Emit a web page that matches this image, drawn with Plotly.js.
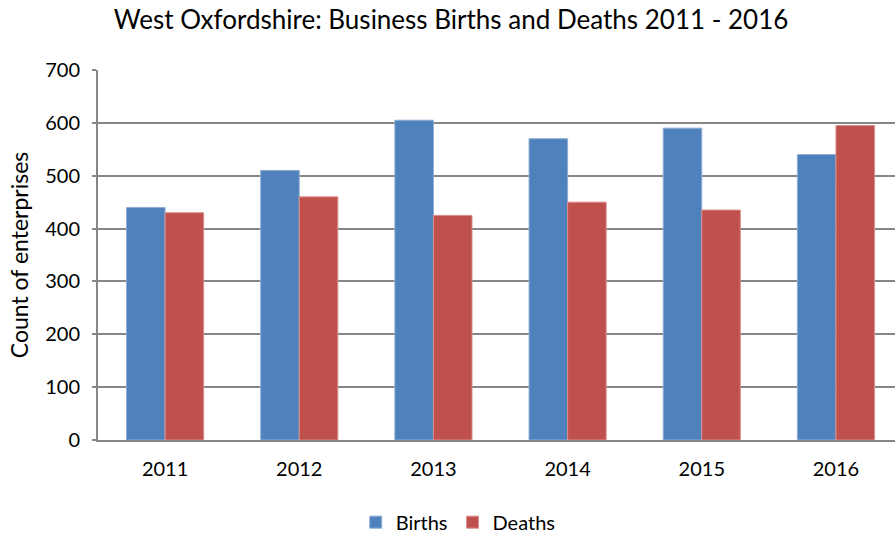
<!DOCTYPE html>
<html>
<head>
<meta charset="utf-8">
<script src="https://cdn.plot.ly/plotly-3.0.1.min.js"></script>
<style>html,body{margin:0;padding:0;background:#fff;}#chart{width:895px;height:535px;}</style>
</head>
<body>
<div id="chart"></div>
<script>
var years = ["2011", "2012", "2013", "2014", "2015", "2016"];
var births = [440, 510, 605, 570, 590, 540];
var deaths = [430, 460, 425, 450, 435, 595];
var yTicks = [0, 100, 200, 300, 400, 500, 600, 700];

var font = "Lato, 'Open Sans', sans-serif";
var data = [
  {type: "bar", name: "Births", x: years, y: births,
   marker: {color: "#4F81BD", line: {color: "#8EADD6", width: 1}}},
  {type: "bar", name: "Deaths", x: years, y: deaths,
   marker: {color: "#C0504D", line: {color: "#DB8F8D", width: 1}}}
];
var layout = {
  width: 895, height: 535,
  margin: {l: 98, r: 0, t: 70, b: 95, autoexpand: false},
  paper_bgcolor: "#fff", plot_bgcolor: "#fff",
  font: {family: font, color: "#000", size: 20},
  title: {text: "West Oxfordshire: Business Births and Deaths 2011 - 2016",
          font: {family: font, size: 26, color: "#000"},
          x: 0.504, xanchor: "center", y: 0.962, yanchor: "middle"},
  barmode: "group", bargap: 0.425, bargroupgap: 0,
  xaxis: {type: "category", range: [-0.5, 5.44], showgrid: false,
          showline: true, linecolor: "#868686", linewidth: 2,
          ticks: "", ticklabelstandoff: 10, tickfont: {size: 20}},
  yaxis: {range: [0, 700], tickvals: yTicks, showgrid: true,
          gridcolor: "#868686", gridwidth: 2,
          showline: true, linecolor: "#868686", linewidth: 2,
          ticks: "outside", ticklen: 4, tickcolor: "#868686", tickwidth: 2,
          ticklabelstandoff: 8,
          zeroline: false, tickfont: {size: 20},
          title: {text: "Count of enterprises", font: {size: 23}, standoff: 10}},
  legend: {orientation: "h", x: 0.452, xanchor: "center", y: -0.222, yanchor: "middle",
           font: {size: 20}, itemwidth: 30, traceorder: "normal"},
  showlegend: true
};
Plotly.newPlot("chart", data, layout, {displayModeBar: false, staticPlot: true});
</script>
</body>
</html>
